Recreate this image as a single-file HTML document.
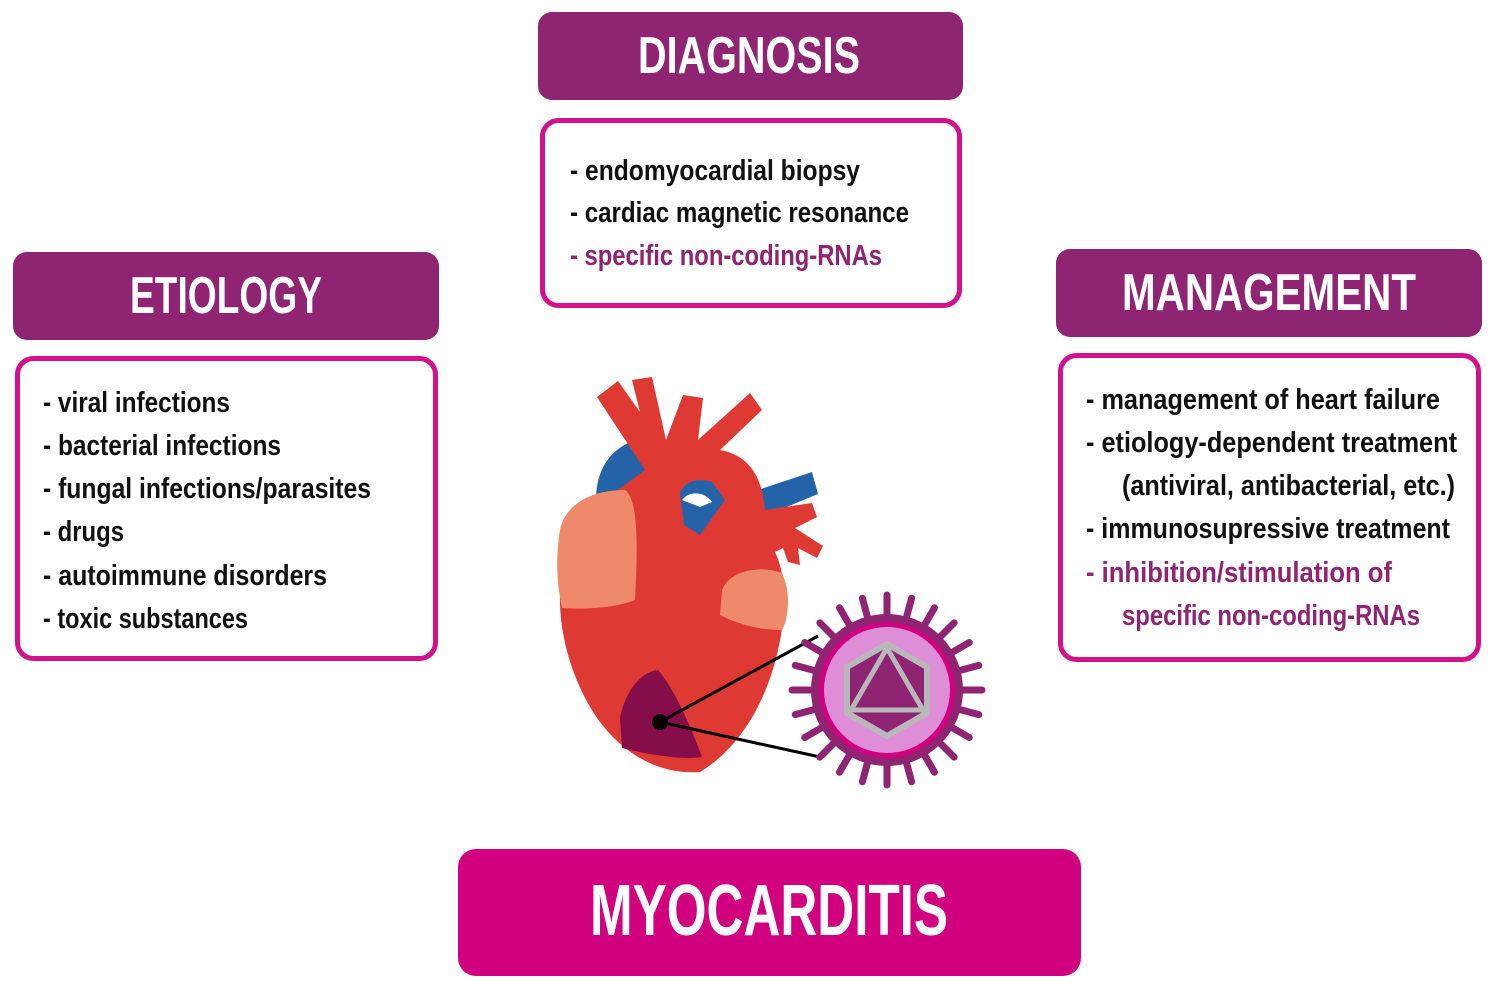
<!DOCTYPE html>
<html><head><meta charset="utf-8"><style>
html,body{margin:0;padding:0;background:#fff}
svg{display:block}
text{font-family:"Liberation Sans Narrow","Liberation Sans",sans-serif;font-weight:bold}
</style></head><body>
<svg width="1496" height="990" viewBox="0 0 1496 990" xmlns="http://www.w3.org/2000/svg">
<defs>
<g id="sp"><line x1="0" y1="-70" x2="0" y2="-95" stroke="#8e2472" stroke-width="7" stroke-linecap="round"/></g>
</defs>
<!-- Diagnosis -->
<rect x="538" y="12" width="425" height="88" rx="14" fill="#8e2472"/>
<text x="638" y="73" font-size="52" fill="#fff" textLength="222" lengthAdjust="spacingAndGlyphs">DIAGNOSIS</text>
<rect x="542.5" y="120.5" width="417" height="185" rx="16" fill="#fff" stroke="#d3118a" stroke-width="5"/>
<g font-size="29" fill="#111">
<text x="570" y="180" textLength="290" lengthAdjust="spacingAndGlyphs">- endomyocardial biopsy</text>
<text x="570" y="222" textLength="339" lengthAdjust="spacingAndGlyphs">- cardiac magnetic resonance</text>
<text x="570" y="265" fill="#8e2472" textLength="312" lengthAdjust="spacingAndGlyphs">- specific non-coding-RNAs</text>
</g>
<!-- Etiology -->
<rect x="13" y="252" width="426" height="88" rx="14" fill="#8e2472"/>
<text x="130" y="313" font-size="52" fill="#fff" textLength="192" lengthAdjust="spacingAndGlyphs">ETIOLOGY</text>
<rect x="17.5" y="358.5" width="418" height="300" rx="16" fill="#fff" stroke="#d3118a" stroke-width="5"/>
<g font-size="29" fill="#111">
<text x="43" y="412" textLength="187" lengthAdjust="spacingAndGlyphs">- viral infections</text>
<text x="43" y="455" textLength="238" lengthAdjust="spacingAndGlyphs">- bacterial infections</text>
<text x="43" y="498" textLength="328" lengthAdjust="spacingAndGlyphs">- fungal infections/parasites</text>
<text x="43" y="541" textLength="81" lengthAdjust="spacingAndGlyphs">- drugs</text>
<text x="43" y="585" textLength="284" lengthAdjust="spacingAndGlyphs">- autoimmune disorders</text>
<text x="43" y="628" textLength="205" lengthAdjust="spacingAndGlyphs">- toxic substances</text>
</g>
<!-- Management -->
<rect x="1056" y="249" width="426" height="88" rx="14" fill="#8e2472"/>
<text x="1122" y="310" font-size="52" fill="#fff" textLength="294" lengthAdjust="spacingAndGlyphs">MANAGEMENT</text>
<rect x="1060.5" y="355.5" width="418" height="304" rx="16" fill="#fff" stroke="#d3118a" stroke-width="5"/>
<g font-size="29" fill="#111">
<text x="1086" y="409" textLength="354" lengthAdjust="spacingAndGlyphs">- management of heart failure</text>
<text x="1086" y="452" textLength="371" lengthAdjust="spacingAndGlyphs">- etiology-dependent treatment</text>
<text x="1122" y="495" textLength="333" lengthAdjust="spacingAndGlyphs">(antiviral, antibacterial, etc.)</text>
<text x="1086" y="538" textLength="364" lengthAdjust="spacingAndGlyphs">- immunosupressive treatment</text>
<text x="1086" y="582" fill="#8e2472" textLength="306" lengthAdjust="spacingAndGlyphs">- inhibition/stimulation of</text>
<text x="1122" y="625" fill="#8e2472" textLength="298" lengthAdjust="spacingAndGlyphs">specific non-coding-RNAs</text>
</g>
<!-- Myocarditis -->
<rect x="458" y="849" width="623" height="127" rx="18" fill="#d1007f"/>
<text x="590" y="935" font-size="72" fill="#fff" textLength="358" lengthAdjust="spacingAndGlyphs">MYOCARDITIS</text>
<!-- Heart -->
<path d="M596,500 C596,465 615,443 645,438 L660,440 L660,470 C640,470 632,480 632,500 Z" fill="#2563a8"/>
<path d="M680,492 L728,500 L812,472 L818,494 L762,517 L718,568 L680,536 Z" fill="#2563a8"/>
<path d="M560,545 C560,515 580,495 615,492 L645,470 L597,397 L618,381 L640,412 L632,380 L652,377 L666,440 L683,395 L703,398 L698,440 L750,393 L762,410 L720,450 C748,455 762,475 765,510 L812,503 L817,517 L795,528 L823,546 L817,558 L798,548 L800,565 L788,562 L783,548 L775,552 C786,575 786,605 781,635 C772,690 745,745 700,772 C660,775 625,755 600,722 C575,688 560,640 560,600 Z" fill="#de3a33"/>
<path d="M680,493 C685,480 700,478 712,482 L725,500 L700,535 L684,525 Z" fill="#2563a8"/>
<path d="M682,500 C690,490 705,492 712,502 L700,507 Z" fill="#fff"/>
<path d="M560,530 C565,505 590,490 625,490 C640,500 637,560 635,600 C620,606 595,610 562,608 C556,580 556,555 560,530 Z" fill="#ee8a6a"/>
<path d="M722,590 C730,570 760,565 782,573 C790,590 790,615 782,630 C760,630 740,625 720,615 Z" fill="#ee8a6a"/>
<path d="M620,718 C625,692 640,672 658,670 C675,690 690,725 702,757 C680,760 650,755 622,748 Z" fill="#850d4a"/>
<line x1="660" y1="722" x2="818" y2="636" stroke="#000" stroke-width="3"/>
<line x1="660" y1="722" x2="820" y2="757" stroke="#000" stroke-width="3"/>
<circle cx="660" cy="722" r="8" fill="#000"/>
<!-- Virus -->
<g transform="translate(887,690)">
<use href="#sp"/><use href="#sp" transform="rotate(15)"/><use href="#sp" transform="rotate(30)"/><use href="#sp" transform="rotate(45)"/>
<use href="#sp" transform="rotate(60)"/><use href="#sp" transform="rotate(75)"/><use href="#sp" transform="rotate(90)"/><use href="#sp" transform="rotate(105)"/>
<use href="#sp" transform="rotate(120)"/><use href="#sp" transform="rotate(135)"/><use href="#sp" transform="rotate(150)"/><use href="#sp" transform="rotate(165)"/>
<use href="#sp" transform="rotate(180)"/><use href="#sp" transform="rotate(195)"/><use href="#sp" transform="rotate(210)"/><use href="#sp" transform="rotate(225)"/>
<use href="#sp" transform="rotate(240)"/><use href="#sp" transform="rotate(255)"/><use href="#sp" transform="rotate(270)"/><use href="#sp" transform="rotate(285)"/>
<use href="#sp" transform="rotate(300)"/><use href="#sp" transform="rotate(315)"/><use href="#sp" transform="rotate(330)"/><use href="#sp" transform="rotate(345)"/>
<circle r="76" fill="#8e2472"/>
<circle r="68" fill="#d1007f"/>
<circle r="63" fill="#dd8ed6"/>
<polygon points="0,-46 40,-23 40,23 0,46 -40,23 -40,-23" fill="#8e2472" stroke="#b8b8bb" stroke-width="6"/>
<polygon points="0,-42 36,20 -36,20" fill="none" stroke="#b8b8bb" stroke-width="5"/>
</g>
</svg>
</body></html>
